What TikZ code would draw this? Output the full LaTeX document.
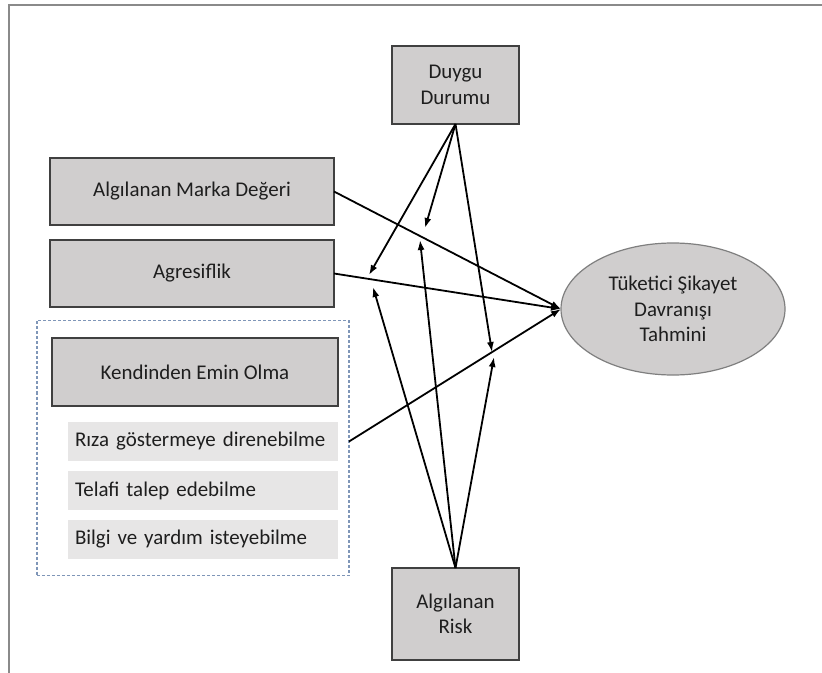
\documentclass[tikz,border=0pt]{standalone}
\usepackage{fontspec}
\setmainfont{Carlito}
\usetikzlibrary{arrows.meta,shapes.geometric}
\definecolor{boxfill}{HTML}{D0CECE}
\definecolor{boxline}{HTML}{404040}
\definecolor{subfill}{HTML}{E7E6E6}
\definecolor{dashcol}{HTML}{7F96B8}
\definecolor{ellline}{HTML}{7F7F7F}
\definecolor{framecol}{HTML}{8A8A8A}
\definecolor{txt}{HTML}{1E1E1E}
\tikzset{
  gbox/.style={draw=boxline, fill=boxfill, line width=1.2bp, inner sep=0pt, outer sep=0pt, align=center, text=txt},
  subbox/.style={fill=subfill, inner sep=0pt, outer sep=0pt, minimum width=270bp, minimum height=39bp, anchor=north west, text width=256bp, align=left, text=txt},
  arr/.style={line width=1.8bp, -{Latex[length=10bp,width=7bp]}},
  ln/.style={line width=1.8bp}
}
\begin{document}
\begin{tikzpicture}[x=1bp,y=-1bp, font=\fontsize{21}{25.5}\selectfont]
\useasboundingbox (0,0) rectangle (822,673);
% frame
\draw[framecol, line width=2bp] (9,673) -- (9,5) -- (822,5);
% nodes
\node[gbox, minimum width=127bp, minimum height=78bp] (duygu) at (455.5,85) {Duygu\\Durumu};
\node[gbox, minimum width=284bp, minimum height=67bp] (marka) at (192,191.5) {Algılanan Marka Değeri};
\node[gbox, minimum width=284bp, minimum height=67bp] (agr) at (192,273.5) {Agresiflik};
\node[draw=dashcol, dashed, dash pattern=on 3bp off 2bp, line width=1.1bp, inner sep=0pt, outer sep=0pt, minimum width=312bp, minimum height=255bp] (grp) at (193,448) {};
\node[gbox, minimum width=286bp, minimum height=68bp] (emin) at (195,372) {Kendinden Emin Olma};
\node[subbox] (riza) at (68,422) {Rıza göstermeye direnebilme};
\node[subbox] (telafi) at (68,471) {Telafi talep edebilme};
\node[subbox] (bilgi) at (68,520) {Bilgi ve yardım isteyebilme};
\node[gbox, minimum width=127bp, minimum height=92bp] (risk) at (455.5,614) {Algılanan\\Risk};
\node[ellipse, draw=ellline, fill=boxfill, line width=1.2bp, inner sep=0pt, outer sep=0pt, minimum width=224bp, minimum height=132bp, align=center, text=txt] (ell) at (673,309) {Tüketici Şikayet\\Davranışı\\Tahmini};
% free ends
\coordinate (d1) at (369,275);
\coordinate (d2) at (425,228);
\coordinate (d3) at (492,352);
\coordinate (r1) at (373,287);
\coordinate (r2) at (420,240);
\coordinate (r3) at (494,357);
\coordinate (rizaout) at (riza -| grp.east);
% connectors
\draw[arr] (marka.east) -- (ell.west);
\draw[arr] (agr.east) -- (ell.west);
\draw[arr] (rizaout) -- (ell.west);
\draw[arr] (duygu.south) -- (d1);
\draw[arr] (duygu.south) -- (d2);
\draw[arr] (duygu.south) -- (d3);
\draw[arr] (risk.north) -- (r1);
\draw[arr] (risk.north) -- (r2);
\draw[arr] (risk.north) -- (r3);
\end{tikzpicture}
\end{document}
